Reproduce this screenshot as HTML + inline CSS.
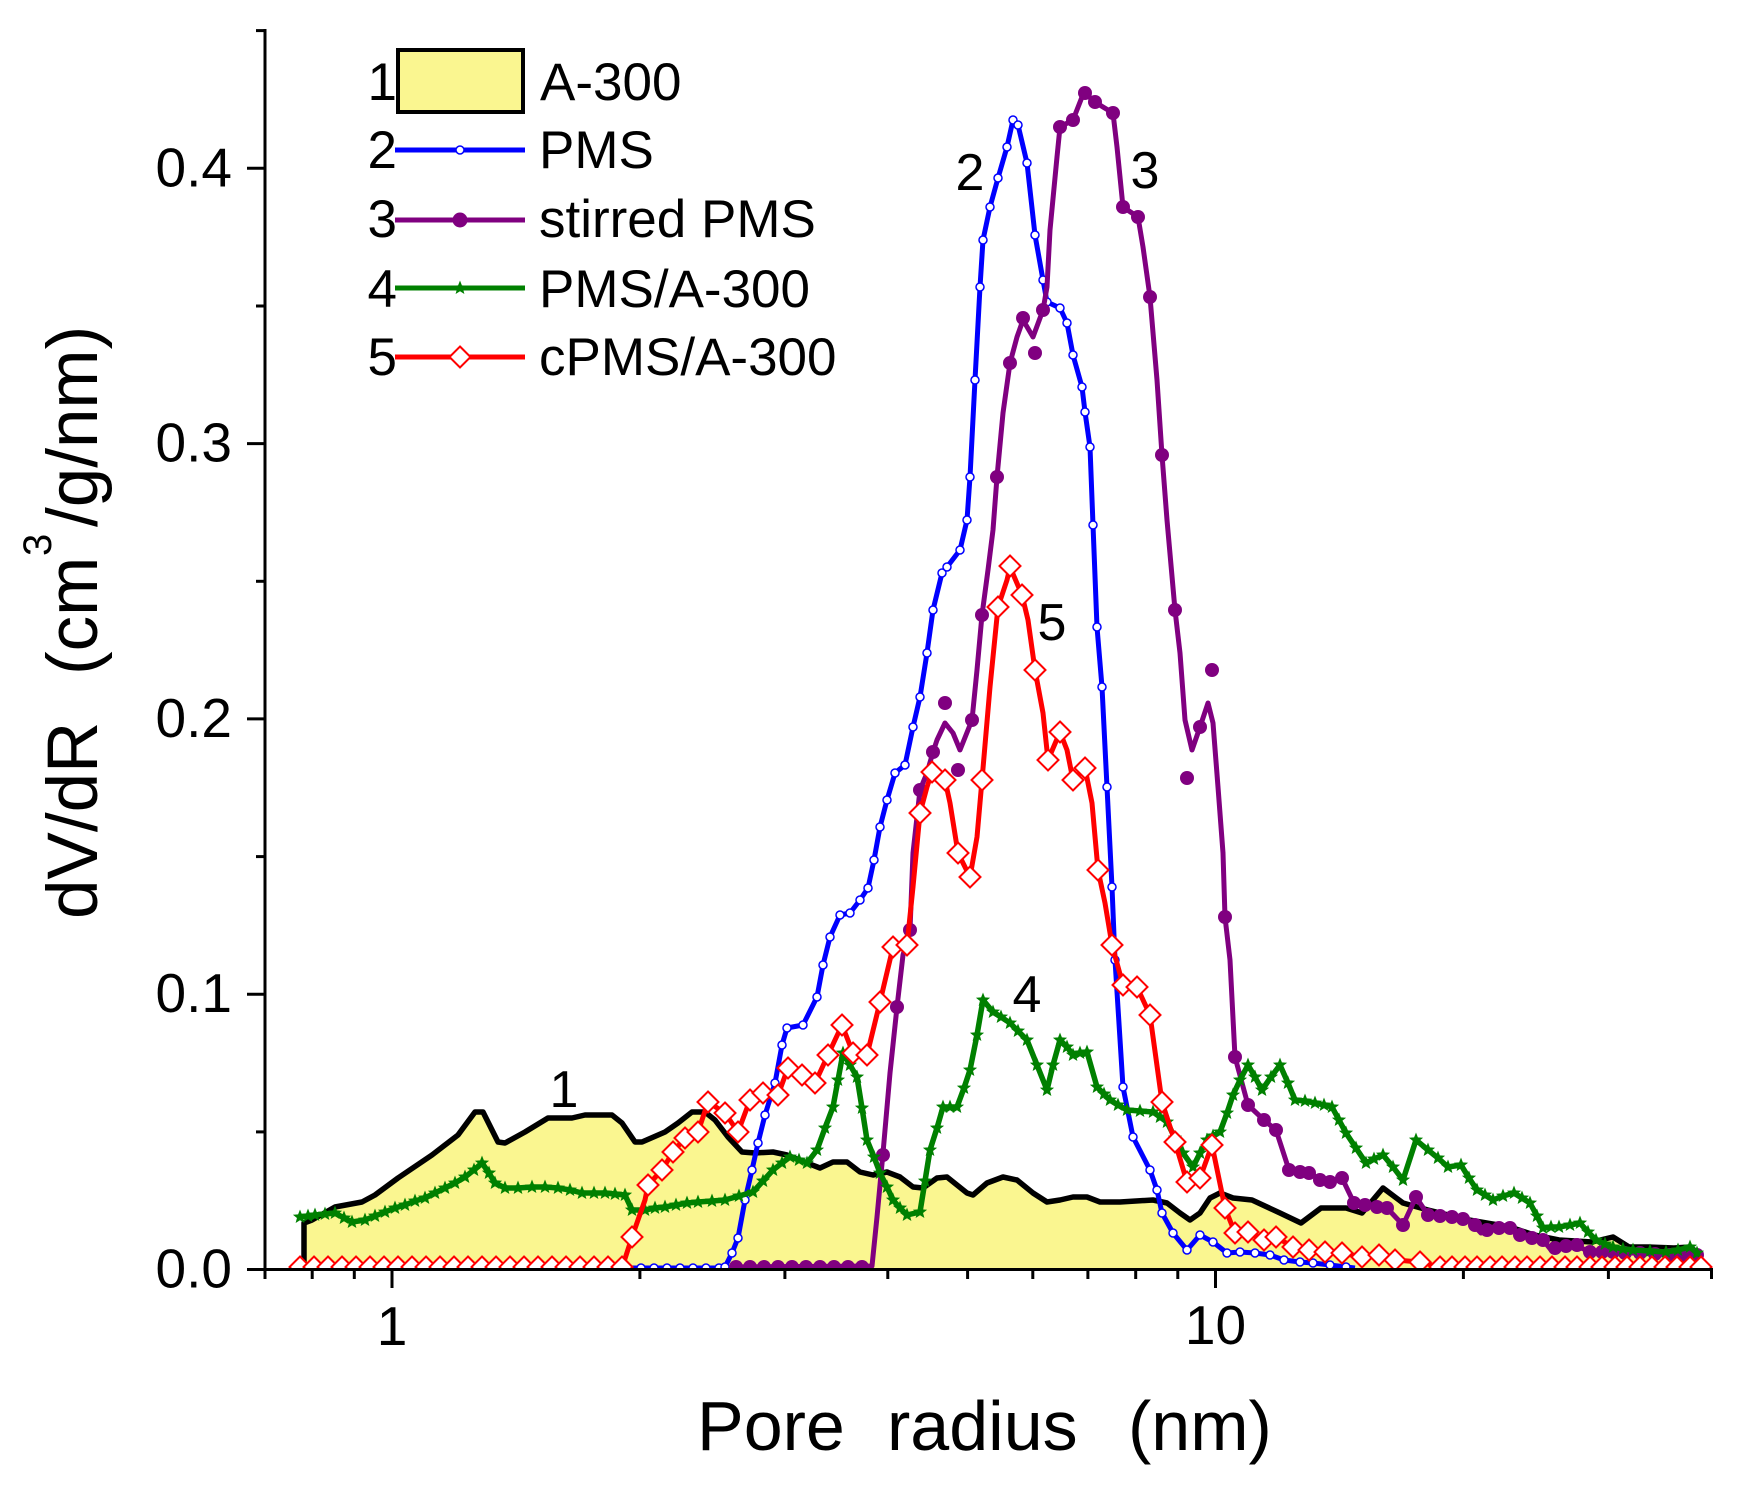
<!DOCTYPE html>
<html><head><meta charset="utf-8"><style>
html,body{margin:0;padding:0;background:#fff;}
svg{display:block;}
text{font-family:"Liberation Sans",Arial,sans-serif;fill:#000;}
</style></head><body>
<svg width="1740" height="1488" viewBox="0 0 1740 1488" xmlns="http://www.w3.org/2000/svg">
<defs>
<clipPath id="pc"><rect x="266" y="20" width="1450" height="1249.5"/></clipPath>
<path id="dia" d="M0,-10.5 L10.5,0 L0,10.5 L-10.5,0 Z" fill="#fff" stroke="#ff0000" stroke-width="2"/>
<circle id="pdot" r="7" fill="#800080"/>
<marker id="mb" markerUnits="userSpaceOnUse" markerWidth="12" markerHeight="12" refX="0" refY="0" overflow="visible"><circle r="4" fill="#fff" stroke="#0000ff" stroke-width="1.5"/></marker>
<marker id="ms" markerUnits="userSpaceOnUse" markerWidth="16" markerHeight="16" refX="0" refY="0" overflow="visible"><path d="M0,-7.5 L1.9,-2.6 L7.1,-2.3 L3.05,1 L4.4,6.05 L0,3.2 L-4.4,6.05 L-3.05,1 L-7.1,-2.3 L-1.9,-2.6 Z" fill="#008000"/></marker>
</defs>

<g clip-path="url(#pc)">
<polygon fill="#faf690" stroke="none" points="304,1269.5 304,1223 312,1220 335,1207 362,1202 375,1195 398,1178 432,1155 458,1135 475,1112 483,1112 498,1142 505,1143 525,1132 548,1118 572,1118 585,1115 612,1115 622,1123 635,1142 642,1142 665,1132 678,1123 692,1112 705,1112 715,1120 728,1137 742,1152 755,1153 773,1152 787,1155 807,1163 820,1168 833,1162 847,1162 860,1172 873,1175 887,1172 900,1177 913,1187 923,1188 937,1178 947,1177 967,1193 973,1195 987,1183 1003,1177 1017,1180 1033,1193 1047,1202 1060,1200 1073,1197 1087,1197 1100,1202 1120,1202 1153,1200 1167,1203 1180,1213 1190,1220 1200,1213 1210,1198 1220,1193 1233,1198 1252,1200 1280,1213 1301,1223 1321,1208 1346,1208 1362,1213 1383,1188 1403,1203 1428,1210 1469,1220 1510,1227 1534,1235 1559,1240 1592,1242 1613,1237 1629,1247 1649,1247 1674,1248 1690,1247 1698,1253 1698,1269.5"/>
<polyline fill="none" stroke="#000" stroke-width="5.5" stroke-linejoin="round" points="304,1269.5 304,1223 312,1220 335,1207 362,1202 375,1195 398,1178 432,1155 458,1135 475,1112 483,1112 498,1142 505,1143 525,1132 548,1118 572,1118 585,1115 612,1115 622,1123 635,1142 642,1142 665,1132 678,1123 692,1112 705,1112 715,1120 728,1137 742,1152 755,1153 773,1152 787,1155 807,1163 820,1168 833,1162 847,1162 860,1172 873,1175 887,1172 900,1177 913,1187 923,1188 937,1178 947,1177 967,1193 973,1195 987,1183 1003,1177 1017,1180 1033,1193 1047,1202 1060,1200 1073,1197 1087,1197 1100,1202 1120,1202 1153,1200 1167,1203 1180,1213 1190,1220 1200,1213 1210,1198 1220,1193 1233,1198 1252,1200 1280,1213 1301,1223 1321,1208 1346,1208 1362,1213 1383,1188 1403,1203 1428,1210 1469,1220 1510,1227 1534,1235 1559,1240 1592,1242 1613,1237 1629,1247 1649,1247 1674,1248 1690,1247 1698,1253"/>

<polyline fill="none" stroke="#0000ff" stroke-width="5" stroke-linejoin="round" marker-mid="url(#mb)" points="628,1268 641,1268 654,1268 667,1268 680,1268 693,1268 706,1268 719,1268 725,1267 732,1253 738,1238 745,1200 752,1170 758,1143 765,1115 775,1083 782,1045 787,1028 803,1025 817,997 823,965 830,937 840,915 850,913 860,900 868,888 874,860 880,827 887,800 895,773 905,765 913,727 920,697 927,653 933,610 942,573 947,567 960,550 967,520 970,477 975,380 980,287 983,240 990,207 998,178 1007,147 1013,120 1018,125 1027,163 1035,235 1043,280 1047,302 1060,308 1067,323 1073,355 1082,387 1085,412 1090,447 1093,525 1097,627 1102,687 1107,787 1112,887 1115,960 1123,1087 1133,1137 1150,1170 1157,1190 1162,1213 1173,1233 1187,1250 1200,1235 1213,1242 1227,1253 1240,1252 1255,1253 1270,1255 1284,1260 1300,1262 1313,1263 1330,1265 1346,1267 1355,1268"/>

<polyline fill="none" stroke="#800080" stroke-width="5" stroke-linejoin="round" points="730,1267 872,1266 877,1217 883,1153 890,1073 897,1007 903,955 910,930 913,853 920,790 927,773 933,752 937,740 945,723 953,733 960,750 972,720 977,670 982,615 988,570 993,530 997,477 1003,413 1010,363 1017,337 1023,320 1033,337 1043,310 1047,287 1050,230 1057,157 1060,127 1073,120 1082,97 1085,93 1095,102 1103,107 1113,113 1117,147 1123,207 1138,217 1143,247 1150,297 1157,380 1162,455 1167,520 1175,610 1180,653 1185,720 1192,750 1200,727 1208,703 1213,723 1218,787 1223,853 1225,917 1230,960 1235,1057 1248,1105 1264,1120 1276,1130 1289,1170 1309,1173 1325,1182 1342,1178 1354,1203 1370,1205 1387,1208 1403,1225 1416,1197 1428,1215 1452,1217 1469,1220 1481,1233 1493,1227 1510,1228 1526,1237 1543,1240 1551,1250 1575,1245 1592,1253 1613,1252 1633,1253 1674,1255 1697,1255"/>
<g>
<use href="#pdot" x="736" y="1267"/><use href="#pdot" x="750" y="1267"/><use href="#pdot" x="764" y="1267"/><use href="#pdot" x="778" y="1267"/><use href="#pdot" x="792" y="1267"/><use href="#pdot" x="806" y="1267"/><use href="#pdot" x="820" y="1267"/><use href="#pdot" x="834" y="1267"/><use href="#pdot" x="848" y="1267"/><use href="#pdot" x="862" y="1267"/>
<use href="#pdot" x="883" y="1155"/><use href="#pdot" x="897" y="1007"/><use href="#pdot" x="910" y="930"/><use href="#pdot" x="920" y="790"/><use href="#pdot" x="933" y="752"/><use href="#pdot" x="945" y="703"/><use href="#pdot" x="958" y="770"/><use href="#pdot" x="972" y="720"/><use href="#pdot" x="982" y="615"/><use href="#pdot" x="997" y="477"/><use href="#pdot" x="1010" y="363"/><use href="#pdot" x="1023" y="318"/><use href="#pdot" x="1035" y="353"/><use href="#pdot" x="1043" y="310"/><use href="#pdot" x="1060" y="127"/><use href="#pdot" x="1073" y="120"/><use href="#pdot" x="1085" y="93"/><use href="#pdot" x="1095" y="102"/><use href="#pdot" x="1113" y="113"/><use href="#pdot" x="1123" y="207"/><use href="#pdot" x="1138" y="217"/><use href="#pdot" x="1150" y="297"/><use href="#pdot" x="1162" y="455"/><use href="#pdot" x="1175" y="610"/><use href="#pdot" x="1187" y="778"/><use href="#pdot" x="1200" y="727"/><use href="#pdot" x="1212" y="670"/><use href="#pdot" x="1225" y="917"/><use href="#pdot" x="1235" y="1057"/><use href="#pdot" x="1248" y="1105"/><use href="#pdot" x="1264" y="1120"/><use href="#pdot" x="1276" y="1130"/><use href="#pdot" x="1289" y="1170"/><use href="#pdot" x="1300" y="1172"/><use href="#pdot" x="1309" y="1173"/><use href="#pdot" x="1320" y="1180"/><use href="#pdot" x="1330" y="1182"/><use href="#pdot" x="1342" y="1178"/><use href="#pdot" x="1354" y="1203"/><use href="#pdot" x="1365" y="1205"/><use href="#pdot" x="1377" y="1207"/><use href="#pdot" x="1387" y="1208"/><use href="#pdot" x="1403" y="1225"/><use href="#pdot" x="1416" y="1197"/><use href="#pdot" x="1428" y="1215"/><use href="#pdot" x="1440" y="1216"/><use href="#pdot" x="1452" y="1217"/><use href="#pdot" x="1463" y="1219"/><use href="#pdot" x="1475" y="1225"/><use href="#pdot" x="1487" y="1230"/><use href="#pdot" x="1499" y="1228"/><use href="#pdot" x="1510" y="1228"/><use href="#pdot" x="1520" y="1235"/><use href="#pdot" x="1532" y="1238"/><use href="#pdot" x="1543" y="1240"/><use href="#pdot" x="1555" y="1248"/><use href="#pdot" x="1566" y="1246"/><use href="#pdot" x="1577" y="1245"/><use href="#pdot" x="1590" y="1252"/><use href="#pdot" x="1602" y="1252"/><use href="#pdot" x="1613" y="1252"/><use href="#pdot" x="1625" y="1253"/><use href="#pdot" x="1640" y="1253"/><use href="#pdot" x="1655" y="1254"/><use href="#pdot" x="1670" y="1255"/><use href="#pdot" x="1685" y="1255"/><use href="#pdot" x="1697" y="1255"/>
</g>

<polyline fill="none" stroke="#008000" stroke-width="5.5" stroke-linejoin="round" marker-start="url(#ms)" marker-mid="url(#ms)" marker-end="url(#ms)" points="300,1217 308,1216 315,1215 325,1214 335,1213 344,1218 352,1222 365,1220 375,1216 385,1212 395,1208 405,1205 415,1201 425,1198 435,1193 445,1188 455,1183 465,1177 474,1170 482,1163 489,1173 495,1183 505,1188 518,1188 532,1187 545,1187 558,1188 570,1190 582,1193 594,1193 605,1193 615,1194 625,1195 632,1210 645,1210 655,1208 665,1207 676,1205 687,1203 698,1202 712,1201 725,1200 739,1196 753,1192 763,1181 773,1170 782,1163 790,1157 799,1160 807,1163 817,1150 825,1128 833,1107 838,1080 843,1053 850,1065 857,1077 862,1108 867,1140 874,1157 880,1173 887,1187 893,1200 900,1208 907,1215 920,1212 925,1181 930,1150 937,1128 943,1107 950,1107 957,1107 964,1088 970,1070 977,1035 983,1000 993,1012 1001,1017 1010,1023 1018,1031 1027,1040 1037,1065 1047,1090 1053,1065 1060,1040 1067,1047 1073,1055 1080,1053 1087,1052 1097,1087 1104,1094 1110,1100 1118,1105 1127,1110 1140,1111 1153,1112 1160,1117 1167,1122 1175,1138 1183,1153 1193,1167 1200,1153 1207,1140 1213,1136 1220,1132 1227,1113 1233,1095 1240,1080 1248,1065 1255,1077 1262,1090 1271,1077 1280,1065 1288,1083 1295,1100 1305,1101 1315,1103 1324,1105 1332,1107 1339,1120 1346,1133 1356,1148 1366,1163 1374,1159 1383,1155 1393,1167 1403,1180 1416,1140 1428,1150 1438,1158 1448,1167 1461,1165 1469,1178 1477,1190 1485,1195 1493,1200 1503,1196 1514,1193 1522,1198 1530,1203 1537,1216 1543,1228 1551,1227 1559,1227 1570,1225 1580,1223 1588,1232 1596,1240 1605,1244 1613,1247 1623,1249 1633,1250 1650,1251 1666,1252 1678,1250 1690,1247 1697,1253"/>

<polyline fill="none" stroke="#ff0000" stroke-width="5" stroke-linejoin="round" points="298,1268 622,1268 632,1237 645,1200 648,1185 662,1170 673,1152 685,1138 698,1132 708,1102 725,1113 738,1132 750,1100 763,1093 778,1095 788,1068 802,1075 815,1083 828,1055 842,1025 853,1053 867,1055 880,1002 893,947 907,945 913,887 920,813 927,787 932,772 945,780 950,803 958,853 970,877 977,837 982,780 990,687 998,607 1007,580 1010,567 1022,595 1028,620 1035,670 1043,713 1048,760 1060,732 1067,750 1073,780 1085,768 1092,803 1098,870 1105,903 1112,945 1123,985 1137,987 1150,1015 1162,1102 1175,1142 1187,1182 1200,1178 1212,1145 1225,1208 1235,1233 1248,1232 1264,1240 1276,1237 1293,1247 1309,1250 1325,1252 1342,1253 1362,1257 1379,1255 1395,1260 1420,1262 1440,1267 1700,1267"/>
<g>
<use href="#dia" x="300" y="1267"/><use href="#dia" x="314" y="1267"/><use href="#dia" x="328" y="1267"/><use href="#dia" x="342" y="1267"/><use href="#dia" x="356" y="1267"/><use href="#dia" x="370" y="1267"/><use href="#dia" x="384" y="1267"/><use href="#dia" x="398" y="1267"/><use href="#dia" x="412" y="1267"/><use href="#dia" x="426" y="1267"/><use href="#dia" x="440" y="1267"/><use href="#dia" x="454" y="1267"/><use href="#dia" x="468" y="1267"/><use href="#dia" x="482" y="1267"/><use href="#dia" x="496" y="1267"/><use href="#dia" x="510" y="1267"/><use href="#dia" x="524" y="1267"/><use href="#dia" x="538" y="1267"/><use href="#dia" x="552" y="1267"/><use href="#dia" x="566" y="1267"/><use href="#dia" x="580" y="1267"/><use href="#dia" x="594" y="1267"/><use href="#dia" x="608" y="1267"/><use href="#dia" x="622" y="1267"/>
<use href="#dia" x="632" y="1237"/><use href="#dia" x="648" y="1185"/><use href="#dia" x="662" y="1170"/><use href="#dia" x="673" y="1152"/><use href="#dia" x="685" y="1138"/><use href="#dia" x="698" y="1132"/><use href="#dia" x="708" y="1102"/><use href="#dia" x="725" y="1113"/><use href="#dia" x="738" y="1132"/><use href="#dia" x="750" y="1100"/><use href="#dia" x="763" y="1093"/><use href="#dia" x="778" y="1095"/><use href="#dia" x="788" y="1068"/><use href="#dia" x="802" y="1075"/><use href="#dia" x="815" y="1083"/><use href="#dia" x="828" y="1055"/><use href="#dia" x="842" y="1025"/><use href="#dia" x="853" y="1053"/><use href="#dia" x="867" y="1055"/><use href="#dia" x="880" y="1002"/><use href="#dia" x="893" y="947"/><use href="#dia" x="907" y="945"/><use href="#dia" x="920" y="813"/><use href="#dia" x="932" y="772"/><use href="#dia" x="945" y="780"/><use href="#dia" x="958" y="853"/><use href="#dia" x="970" y="877"/><use href="#dia" x="982" y="780"/><use href="#dia" x="998" y="607"/><use href="#dia" x="1010" y="566"/><use href="#dia" x="1022" y="595"/><use href="#dia" x="1035" y="670"/><use href="#dia" x="1048" y="760"/><use href="#dia" x="1060" y="732"/><use href="#dia" x="1073" y="780"/><use href="#dia" x="1085" y="768"/><use href="#dia" x="1098" y="870"/><use href="#dia" x="1112" y="945"/><use href="#dia" x="1123" y="985"/><use href="#dia" x="1137" y="987"/><use href="#dia" x="1150" y="1015"/><use href="#dia" x="1162" y="1102"/><use href="#dia" x="1175" y="1142"/><use href="#dia" x="1187" y="1182"/><use href="#dia" x="1200" y="1178"/><use href="#dia" x="1212" y="1145"/><use href="#dia" x="1225" y="1208"/><use href="#dia" x="1235" y="1233"/><use href="#dia" x="1248" y="1232"/><use href="#dia" x="1264" y="1240"/><use href="#dia" x="1276" y="1237"/><use href="#dia" x="1293" y="1247"/><use href="#dia" x="1309" y="1250"/><use href="#dia" x="1325" y="1252"/><use href="#dia" x="1342" y="1253"/><use href="#dia" x="1362" y="1257"/><use href="#dia" x="1379" y="1255"/><use href="#dia" x="1395" y="1260"/><use href="#dia" x="1420" y="1262"/>
<use href="#dia" x="1440" y="1267"/><use href="#dia" x="1452" y="1267"/><use href="#dia" x="1465" y="1267"/><use href="#dia" x="1477" y="1267"/><use href="#dia" x="1490" y="1267"/><use href="#dia" x="1502" y="1267"/><use href="#dia" x="1515" y="1267"/><use href="#dia" x="1527" y="1267"/><use href="#dia" x="1540" y="1267"/><use href="#dia" x="1552" y="1267"/><use href="#dia" x="1565" y="1267"/><use href="#dia" x="1577" y="1267"/><use href="#dia" x="1590" y="1267"/><use href="#dia" x="1602" y="1267"/><use href="#dia" x="1615" y="1267"/><use href="#dia" x="1627" y="1267"/><use href="#dia" x="1640" y="1267"/><use href="#dia" x="1652" y="1267"/><use href="#dia" x="1665" y="1267"/><use href="#dia" x="1677" y="1267"/><use href="#dia" x="1690" y="1267"/><use href="#dia" x="1701" y="1267"/>
</g>
</g>

<g stroke="#000" stroke-width="3" fill="none">
<line x1="265" y1="29" x2="265" y2="1279"/>
<line x1="247" y1="1269.5" x2="1713" y2="1269.5"/>
<line x1="247" y1="994.2" x2="265" y2="994.2"/>
<line x1="247" y1="718.9" x2="265" y2="718.9"/>
<line x1="247" y1="443.6" x2="265" y2="443.6"/>
<line x1="247" y1="168.3" x2="265" y2="168.3"/>
<line x1="256" y1="1131.9" x2="265" y2="1131.9"/>
<line x1="256" y1="856.6" x2="265" y2="856.6"/>
<line x1="256" y1="581.3" x2="265" y2="581.3"/>
<line x1="256" y1="306" x2="265" y2="306"/>
<line x1="256" y1="30.6" x2="265" y2="30.6"/>
<line x1="392" y1="1269.5" x2="392" y2="1288"/>
<line x1="1215.5" y1="1269.5" x2="1215.5" y2="1288"/>
<line x1="312.2" y1="1269.5" x2="312.2" y2="1279"/>
<line x1="354.3" y1="1269.5" x2="354.3" y2="1279"/>
<line x1="639.9" y1="1269.5" x2="639.9" y2="1279"/>
<line x1="784.9" y1="1269.5" x2="784.9" y2="1279"/>
<line x1="887.8" y1="1269.5" x2="887.8" y2="1279"/>
<line x1="967.6" y1="1269.5" x2="967.6" y2="1279"/>
<line x1="1032.8" y1="1269.5" x2="1032.8" y2="1279"/>
<line x1="1087.9" y1="1269.5" x2="1087.9" y2="1279"/>
<line x1="1135.7" y1="1269.5" x2="1135.7" y2="1279"/>
<line x1="1177.8" y1="1269.5" x2="1177.8" y2="1279"/>
<line x1="1463.4" y1="1269.5" x2="1463.4" y2="1279"/>
<line x1="1608.4" y1="1269.5" x2="1608.4" y2="1279"/>
<line x1="1711.5" y1="1269.5" x2="1711.5" y2="1279"/>
</g>

<g font-size="55" text-anchor="end">
<text x="232" y="1287.5">0.0</text>
<text x="232" y="1012.2">0.1</text>
<text x="232" y="736.9">0.2</text>
<text x="232" y="461.6">0.3</text>
<text x="232" y="186.3">0.4</text>
</g>
<g font-size="55" text-anchor="middle">
<text x="392" y="1345">1</text>
<text x="1215.5" y="1344">10</text>
</g>

<g font-size="70">
<text x="697" y="1450">Pore</text>
<text x="887" y="1450">radius</text>
<text x="1128" y="1450">(nm)</text>
</g>
<g transform="translate(97,919) rotate(-90)" font-size="71">
<text x="0" y="0">dV/dR</text>
<text x="244" y="0">(cm</text>
<text x="363" y="-46" font-size="40">3</text>
<text x="392" y="0">/g/nm)</text>
</g>

<g font-size="52" text-anchor="middle">
<text x="564" y="1107">1</text>
<text x="970" y="190">2</text>
<text x="1145" y="188">3</text>
<text x="1027" y="1012">4</text>
<text x="1052" y="640">5</text>
</g>

<rect x="398" y="50" width="125" height="62" fill="#faf690" stroke="#000" stroke-width="4"/>
<line x1="395" y1="150" x2="525" y2="150" stroke="#0000ff" stroke-width="5"/>
<circle cx="460" cy="150" r="4" fill="#fff" stroke="#0000ff" stroke-width="1.5"/>
<line x1="395" y1="220" x2="525" y2="220" stroke="#800080" stroke-width="5"/>
<circle cx="460" cy="220" r="7.5" fill="#800080"/>
<line x1="395" y1="288" x2="525" y2="288" stroke="#008000" stroke-width="5"/>
<path transform="translate(460,288)" d="M0,-7.5 L1.9,-2.6 L7.1,-2.3 L3.05,1 L4.4,6.05 L0,3.2 L-4.4,6.05 L-3.05,1 L-7.1,-2.3 L-1.9,-2.6 Z" fill="#008000"/>
<line x1="395" y1="357" x2="525" y2="357" stroke="#ff0000" stroke-width="5"/>
<use href="#dia" x="460" y="357"/>
<g font-size="53" text-anchor="end">
<text x="397" y="100">1</text>
<text x="397" y="168">2</text>
<text x="397" y="237">3</text>
<text x="397" y="307">4</text>
<text x="397" y="375">5</text>
</g>
<g font-size="53">
<text x="540" y="100">A-300</text>
<text x="539" y="168">PMS</text>
<text x="539" y="237">stirred PMS</text>
<text x="539" y="307">PMS/A-300</text>
<text x="539" y="375">cPMS/A-300</text>
</g>
</svg>
</body></html>
